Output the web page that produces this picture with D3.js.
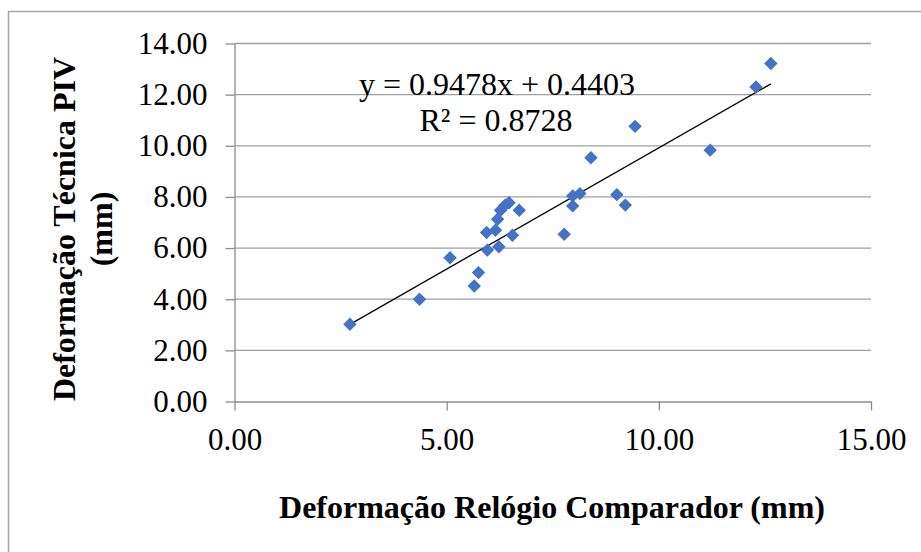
<!DOCTYPE html>
<html>
<head>
<meta charset="utf-8">
<script src="https://cdn.jsdelivr.net/npm/d3@7"></script>
<style>
  body { margin: 0; background: #fff; }
  svg { display: block; font-family: "Liberation Serif", "Times New Roman", serif; }
</style>
</head>
<body>
<svg id="chart"></svg>
<script>
// values
const relogio = [2.72, 4.36, 5.08, 5.65, 5.75, 5.96, 5.94, 6.15, 6.23, 6.20, 6.27, 6.38, 6.47,
                 6.55, 6.71, 7.77, 7.97, 8.14, 7.97, 8.40, 9.01, 9.21, 9.44, 11.21, 12.29, 12.64];
const piv = [3.02, 4.00, 5.62, 4.52, 5.04, 5.92, 6.61, 6.70, 6.05, 7.13, 7.48, 7.68, 7.77,
             6.50, 7.48, 6.54, 8.04, 8.13, 7.65, 9.53, 8.09, 7.68, 10.76, 9.83, 12.30, 13.22];
const xTicks = [0, 5, 10, 15];
const yTicks = [0, 2, 4, 6, 8, 10, 12, 14];
const slope = 0.9478, intercept = 0.4403, r2 = 0.8728;

const width = 921, height = 552;
const margin = {top: 43.5, right: 50, bottom: 150.5, left: 234.5};

const svg = d3.select('#chart')
    .attr('width', width)
    .attr('height', height);

// outer frame
svg.append('rect')
    .attr('x', 8.5).attr('y', 11.5)
    .attr('width', width).attr('height', height)
    .attr('fill', 'none')
    .attr('stroke', '#a6a6a6')
    .attr('stroke-width', 1.5);

const inner_height = height - margin.top - margin.bottom;

const chart = svg.append('g')
    .attr('transform', `translate(${margin.left}, ${margin.top})`);

const xscale = d3.scaleLinear().domain([0, 15]).range([0, 636.5]);
const yscale = d3.scaleLinear().domain([0, 14]).range([inner_height, 0]);

// horizontal gridlines
chart.append('g')
    .selectAll('line')
    .data(yTicks.filter(d => d > 0))
    .join('line')
    .attr('x1', 0).attr('x2', xscale(15))
    .attr('y1', d => yscale(d)).attr('y2', d => yscale(d))
    .attr('stroke', '#a0a0a0')
    .attr('stroke-width', 1.3);

const xaxis = d3.axisBottom(xscale)
    .tickValues(xTicks)
    .tickFormat(d3.format('.2f'))
    .tickSize(9)
    .tickSizeOuter(0)
    .tickPadding(17);

const yaxis = d3.axisLeft(yscale)
    .tickValues(yTicks)
    .tickFormat(d3.format('.2f'))
    .tickSize(9)
    .tickSizeOuter(0)
    .tickPadding(18);

const xg = chart.append('g')
    .attr('transform', `translate(0, ${inner_height})`)
    .call(xaxis);
const yg = chart.append('g').call(yaxis);

[xg, yg].forEach(g => {
    g.select('.domain').attr('stroke', '#8c8c8c').attr('stroke-width', 1.3);
    g.selectAll('.tick line').attr('stroke', '#8c8c8c').attr('stroke-width', 1.3);
    g.selectAll('.tick text')
        .attr('fill', '#000')
        .style('font-family', '"Liberation Serif", serif')
        .style('font-size', '31px');
});

// trendline
const xmin = d3.min(relogio), xmax = d3.max(relogio);
chart.append('line')
    .attr('x1', xscale(xmin)).attr('y1', yscale(slope * xmin + intercept))
    .attr('x2', xscale(xmax)).attr('y2', yscale(slope * xmax + intercept))
    .attr('stroke', '#000')
    .attr('stroke-width', 1.3);

// markers
const diamond = d3.symbol().type(d3.symbolDiamond2).size(115);
chart.append('g')
    .selectAll('path')
    .data(relogio.map((x, i) => ({x: x, y: piv[i]})))
    .join('path')
    .attr('d', diamond)
    .attr('transform', d => `translate(${xscale(d.x)}, ${yscale(d.y)})`)
    .attr('fill', '#4472c4');

// equation
svg.append('text')
    .attr('x', 497).attr('y', 95)
    .attr('text-anchor', 'middle')
    .style('font-size', '32px')
    .text(`y = ${slope}x + ${intercept}`);
svg.append('text')
    .attr('x', 496).attr('y', 131)
    .attr('text-anchor', 'middle')
    .style('font-size', '32px')
    .text(`R² = ${r2}`);

// axis titles
svg.append('text')
    .attr('x', 552).attr('y', 518)
    .attr('text-anchor', 'middle')
    .style('font-size', '32px')
    .style('font-weight', 'bold')
    .text('Deformação Relógio Comparador (mm)');

const ytitle = svg.append('text')
    .attr('transform', 'translate(75, 229) rotate(-90)')
    .attr('text-anchor', 'middle')
    .style('font-size', '32px')
    .style('font-weight', 'bold');
ytitle.append('tspan').attr('x', 0).attr('y', 0).text('Deformação Técnica PIV');
ytitle.append('tspan').attr('x', 0).attr('y', 37).text('(mm)');
</script>
</body>
</html>
